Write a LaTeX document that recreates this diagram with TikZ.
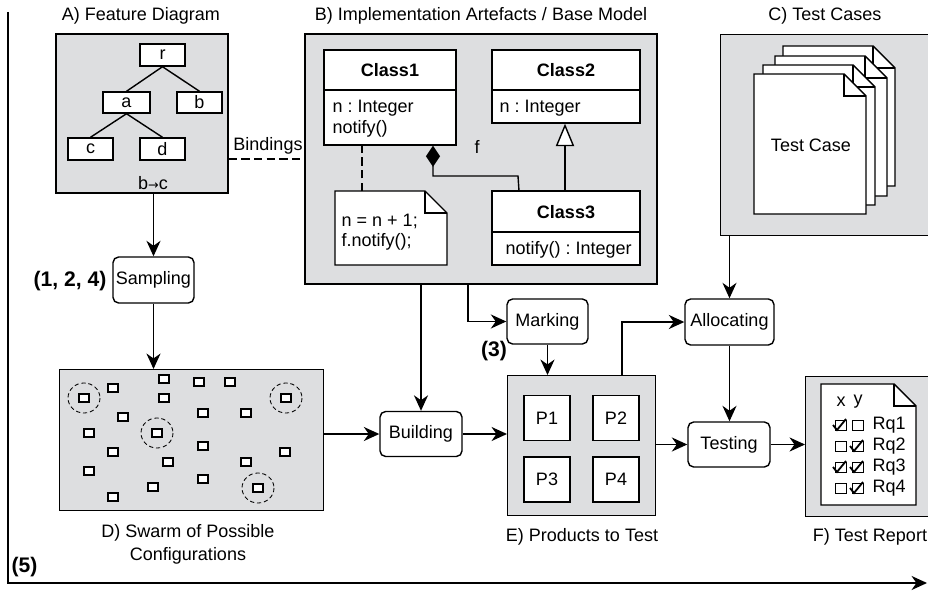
\documentclass[tikz,border=0pt]{standalone}
\usepackage{fontspec}
\setmainfont{Liberation Sans}
\newfontfamily\symfont{DejaVu Sans}
\usepackage{xcolor}
\usetikzlibrary{arrows.meta,shapes}
\frenchspacing

\definecolor{panelgray}{RGB}{221,222,224}

% sheet of paper with a folded corner: top left x,y / bottom right x,y
\newcommand{\docpage}[4]{%
  \filldraw[fill=white] (#1,#2) -- ({#3-22},#2) -- (#3,{#2+22}) -- (#3,#4) -- (#1,#4) -- cycle;
  \draw ({#3-22},#2) -- ({#3-22},{#2+22}) -- (#3,{#2+22});}

\tikzset{
  sized/.style 2 args={minimum width=#1*0.025cm,minimum height=#2*0.025cm},
  panel/.style={draw,fill=panelgray},
  plain/.style={draw,fill=white},
  proc/.style={draw,fill=white,rounded corners=4pt,sized={81}{46}},
  flow/.style={-{Stealth[length=11pt,width=10pt,inset=3.5pt]}},
  bold/.style={font=\fontsize{12.8}{16.5}\selectfont\bfseries},
  steplbl/.style={font=\fontsize{15}{18}\selectfont\bfseries},
  dashlink/.style={dash pattern=on 6pt off 3pt},
}

\begin{document}
\begin{tikzpicture}[x=0.025cm,y=-0.025cm,line width=1pt,
  every node/.append style={inner sep=0pt,font=\fontsize{12.8}{16.5}\selectfont}]
\useasboundingbox (0,0) rectangle (928,591);

% time line
\coordinate (tltop) at (8,12);
\coordinate (tlcorner) at (8,583);
\coordinate (tlend) at (927,583);
\draw[flow] (tltop) -- (tlcorner) -- (tlend);
\node[steplbl,anchor=west] (step5) at (11,567) {(5)};

% A) feature diagram
\node (titleA) at (141,16) {A) Feature Diagram};
\node[panel,sized={172}{159}] (featA) at (142,113.5) {};
\node[plain,sized={45}{22}] (fr) at (162.5,55) {r};
\node[plain,sized={47}{21}] (fa) at (126.5,102.5) {a};
\node[plain,sized={45}{21}] (fb) at (199.5,102.5) {b};
\node[plain,sized={45}{22}] (fc) at (90.5,149) {c};
\node[plain,sized={45}{22}] (fd) at (162.5,149) {d};
\draw (fr.south) -- (fa.north);
\draw (fr.south) -- (fb.north);
\draw (fa.south) -- (fc.north);
\draw (fa.south) -- (fd.north);
\node (constr) at (153,183) {b{\symfont\fontsize{9}{9}\selectfont →}c};

% B) implementation artefacts
\node (titleB) at (481,16) {B) Implementation Artefacts / Base Model};
\node[panel,sized={352}{250}] (implB) at (481,159) {};
\node[plain,sized={132}{95}] (class1) at (390,97.5) {};
\draw (324,90) -- (456,90);
\node[bold] (class1name) at (390,70) {Class1};
\node[anchor=west] (class1attr) at (332,108) {n : Integer};
\node[anchor=west] (class1op) at (332,129) {notify()};
\node[plain,sized={148}{73}] (class2) at (566,86.5) {};
\draw (492,90) -- (640,90);
\node[bold] (class2name) at (566,70) {Class2};
\node[anchor=west] (class2attr) at (499,108) {n : Integer};
\node[plain,sized={148}{74}] (class3) at (566,228) {};
\draw (492,232) -- (640,232);
\node[bold] (class3name) at (566,212) {Class3};
\node[anchor=west] (class3op) at (505,250) {notify() : Integer};
\docpage{335}{191}{447}{265}
\node[sized={112}{74}] (note) at (391,228) {};
\node[anchor=west] (noteline1) at (341,221) {n = n + 1;};
\node[anchor=west] (noteline2) at (341,242) {f.notify();};
\coordinate (notetop) at (362,191);
\draw[dashlink] (notetop) -- (notetop |- class1.south);
\coordinate (compfoot) at (519,191);
\coordinate (compx) at (433,0);
\draw[-{Diamond[length=15pt,width=10pt]}] (compfoot) -- ++(-1,-15) -| (compx |- class1.south);
\node (rolef) at (477,147) {f};
\coordinate (inhfoot) at (565,191);
\draw[-{Triangle[length=16pt,width=13pt,fill=white]}] (inhfoot) -- (inhfoot |- class2.south);

% bindings
\coordinate (bindrow) at (0,159);
\draw[dashlink] (featA.east |- bindrow) -- (implB.west |- bindrow);
\node (bindlbl) at (268,146) {Bindings};

% C) test cases
\node (titleC) at (825,16) {C) Test Cases};
\node[panel,sized={214}{201},anchor=north west] (cases) at (720,34) {};
\foreach \lx/\ty in {783/46,775/56,763/65,754/74}
  \docpage{\lx}{\ty}{\lx+112}{\ty+140};
\node (casetext) at (811,145) {Test Case};

% D) swarm
\node[panel,sized={264}{141},anchor=north west] (swarm) at (59,369) {};
\foreach \sx/\sy in {84/398,113/388,164/379,199/382,230/382,286/398,164/398,123/417,
    203/413,246/413,89/433,157/433,113/452,203/446,285/452,168/462,246/462,89/471,
    203/479,153/487,258/488,113/497}
  \filldraw[fill=white,line width=0.8pt] ({\sx-5},{\sy-4}) rectangle ({\sx+5},{\sy+4});
\foreach \sx/\sy in {84/398,286/398,157/433,258/488}
  \draw[dash pattern=on 3pt off 2pt,line width=0.6pt] (\sx,\sy) circle [x radius=16,y radius=15];
\node[align=center] (titleD) at (188,544) {D) Swarm of Possible\\Configurations};

% process steps
\node[proc] (sampling) at (153.5,280) {Sampling};
\node[steplbl,anchor=east] (step124) at (107,281) {(1, 2, 4)};
\node[proc,sized={82}{45}] (building) at (421,434) {Building};
\node[proc,sized={81}{45}] (marking) at (547.5,321.5) {Marking};
\node[steplbl] (step3) at (494,351) {(3)};
\node[proc,sized={89}{46}] (allocating) at (729.5,322) {Allocating};
\node[proc,sized={82}{45}] (testing) at (729,444.5) {Testing};

% E) products
\node[panel,sized={148}{140},anchor=north west] (products) at (507,375) {};
\node[plain,sized={46}{45}] (p1) at (547,418) {P1};
\node[plain,sized={46}{45}] (p2) at (616,418) {P2};
\node[plain,sized={46}{45}] (p3) at (547,479.5) {P3};
\node[plain,sized={46}{45}] (p4) at (616,479.5) {P4};
\node (titleE) at (582,537) {E) Products to Test};

% F) test report
\node[panel,sized={127}{140},anchor=north west] (report) at (805,376) {};
\docpage{821}{384}{916}{505}
\node (colx) at (841,402) {x};
\node (coly) at (858,402) {y};
\foreach \ty/\rq in {425/1,446/2,467/3,488/4}{
  \draw[line width=0.6pt] (835,{\ty-5}) rectangle (846,{\ty+5});
  \draw[line width=0.6pt] (852,{\ty-5}) rectangle (863,{\ty+5});
  \node[anchor=west] (rq\rq) at (872,\ty) {Rq\rq};
}
\foreach \cx/\ty in {840/425,857/446,840/467,857/467,857/488}
  \draw[line width=1.3pt] ({\cx-7},{\ty}) -- ({\cx-3},{\ty+5}) -- ({\cx+6},{\ty-6});
\node (titleF) at (870,537) {F) Test Report};

% flows
\draw[flow] (sampling.north |- featA.south) -- (sampling.north);
\draw[flow] (sampling.south) -- (sampling.south |- swarm.north);
\draw[flow] (swarm.east |- building.west) -- (building.west);
\draw[flow] (building.north |- implB.south) -- (building.north);
\coordinate (markx) at (468,0);
\draw[flow] (markx |- implB.south) |- (marking.west);
\draw[flow] (building.east) -- (building.east -| products.west);
\draw[flow] (marking.south) -- (marking.south |- products.north);
\coordinate (allocx) at (622,0);
\draw[flow] (allocx |- products.north) |- (allocating.west);
\draw[flow] (allocating.north |- cases.south) -- (allocating.north);
\draw[flow] (allocating.south) -- (allocating.south |- testing.north);
\draw[flow] (products.east |- testing.west) -- (testing.west);
\draw[flow] (testing.east) -- (testing.east -| report.west);
\end{tikzpicture}
\end{document}
